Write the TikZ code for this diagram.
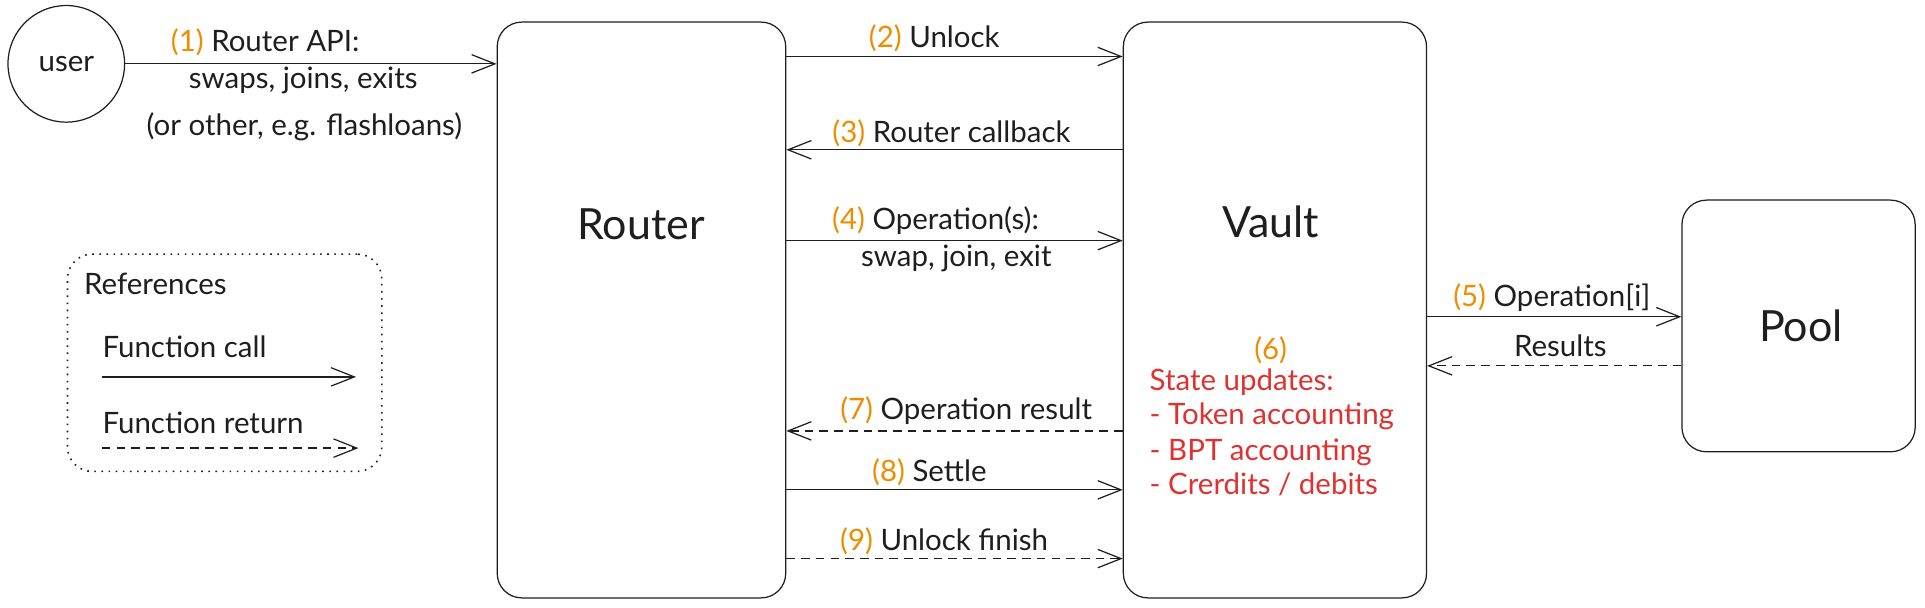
\documentclass[tikz,border=0pt]{standalone}
\usepackage{fontspec}
\setmainfont{Lato}
\usetikzlibrary{arrows.meta}
\definecolor{ink}{HTML}{1E1E1E}
\definecolor{num}{HTML}{F08C00}
\definecolor{redtxt}{HTML}{E03131}
\newcommand{\nm}[1]{\textcolor{num}{#1}}
\begin{document}
\begin{tikzpicture}[x=1pt,y=-1pt, line width=1pt, draw=ink, text=ink,
  font=\fontsize{24}{28}\selectfont,
  box/.style={draw=ink, rounded corners=20pt, inner sep=0pt},
  call/.style={draw=ink, -{Straight Barb[length=19pt,width=15pt]}},
  ret/.style={call, dash pattern=on 7pt off 5pt},
  lbl/.style={inner sep=0pt, anchor=base},
  lblw/.style={inner sep=0pt, anchor=base west},
  red/.style={lblw, text=redtxt},
  big/.style={inner sep=0pt, font=\fontsize{35}{40}\selectfont}]
\useasboundingbox (0,0) rectangle (1568,495);

% main nodes
\node[circle, draw=ink, minimum size=95pt, inner sep=0pt] (user) at (54,52) {user};
\node[box, minimum width=235pt, minimum height=469pt] (router) at (522.5,252.5) {};
\node[box, minimum width=247pt, minimum height=469pt] (vault) at (1038.5,252.5) {};
\node[box, minimum width=190pt, minimum height=205pt] (pool) at (1465,265.5) {};
\node[big] (routerlbl) at (522,183) {Router};
\node[big] (vaultlbl) at (1035,181) {Vault};
\node[big] (poollbl) at (1467,265) {Pool};

% y levels
\coordinate (y2) at (0,46);
\coordinate (y3) at (0,122);
\coordinate (y4) at (0,196);
\coordinate (y5) at (0,258);
\coordinate (yr) at (0,298);
\coordinate (y7) at (0,351);
\coordinate (y8) at (0,399);
\coordinate (y9) at (0,455);

% connectors
\draw[call] (user.east) -- (router.west |- user.east);
\draw[call] (router.east |- y2) -- (vault.west |- y2);
\draw[call] (vault.west |- y3) -- (router.east |- y3);
\draw[call] (router.east |- y4) -- (vault.west |- y4);
\draw[call] (vault.east |- y5) -- (pool.west |- y5);
\draw[ret] (pool.west |- yr) -- (vault.east |- yr);
\draw[ret] (vault.west |- y7) -- (router.east |- y7);
\draw[call] (router.east |- y8) -- (vault.west |- y8);
\draw[ret] (router.east |- y9) -- (vault.west |- y9);

% labels
\node[lbl] (l1a) at (216,42) {\nm{(1)} Router API:};
\node[lbl] (l1b) at (247,72) {swaps, joins, exits};
\node[lbl] (l1c) at (248,110) {(or other, e.g. flashloans)};
\node[lbl] (l2) at (761,39) {\nm{(2)} Unlock};
\node[lbl] (l3) at (775,116) {\nm{(3)} Router callback};
\node[lbl] (l4a) at (762,187) {\nm{(4)} Operation(s):};
\node[lbl] (l4b) at (779,217) {swap, join, exit};
\node[lbl] (l5) at (1264,250) {\nm{(5)} Operation[i]};
\node[lbl] (lr) at (1271,290) {Results};
\node[lbl] (l7) at (787,342) {\nm{(7)} Operation result};
\node[lbl] (l8) at (757,392) {\nm{(8)} Settle};
\node[lbl] (l9) at (769,448) {\nm{(9)} Unlock finish};

% state updates
\node[lbl, text=num] (l6) at (1035,293) {(6)};
\node[red] (s1) at (936,318) {State updates:};
\node[red] (s2) at (936,346) {- Token accounting};
\node[red] (s3) at (936,375) {- BPT accounting};
\node[red] (s4) at (936,403) {- Crerdits / debits};

% legend
\node[draw=ink, line width=1.3pt, dash pattern=on 1.3pt off 4.5pt, rounded corners=20pt, minimum width=256pt, minimum height=177pt, inner sep=0pt] (legend) at (183,295.5) {};
\node[lblw] (refs) at (68,240) {References};
\node[lblw] (fcall) at (83,291) {Function call};
\node[lblw] (fret) at (83,353) {Function return};
\coordinate (c1a) at (83,307);
\coordinate (c1b) at (290,307);
\coordinate (c2a) at (83,365);
\coordinate (c2b) at (292,365);
\draw[call] (c1a) -- (c1b);
\draw[ret] (c2a) -- (c2b);
\end{tikzpicture}
\end{document}
